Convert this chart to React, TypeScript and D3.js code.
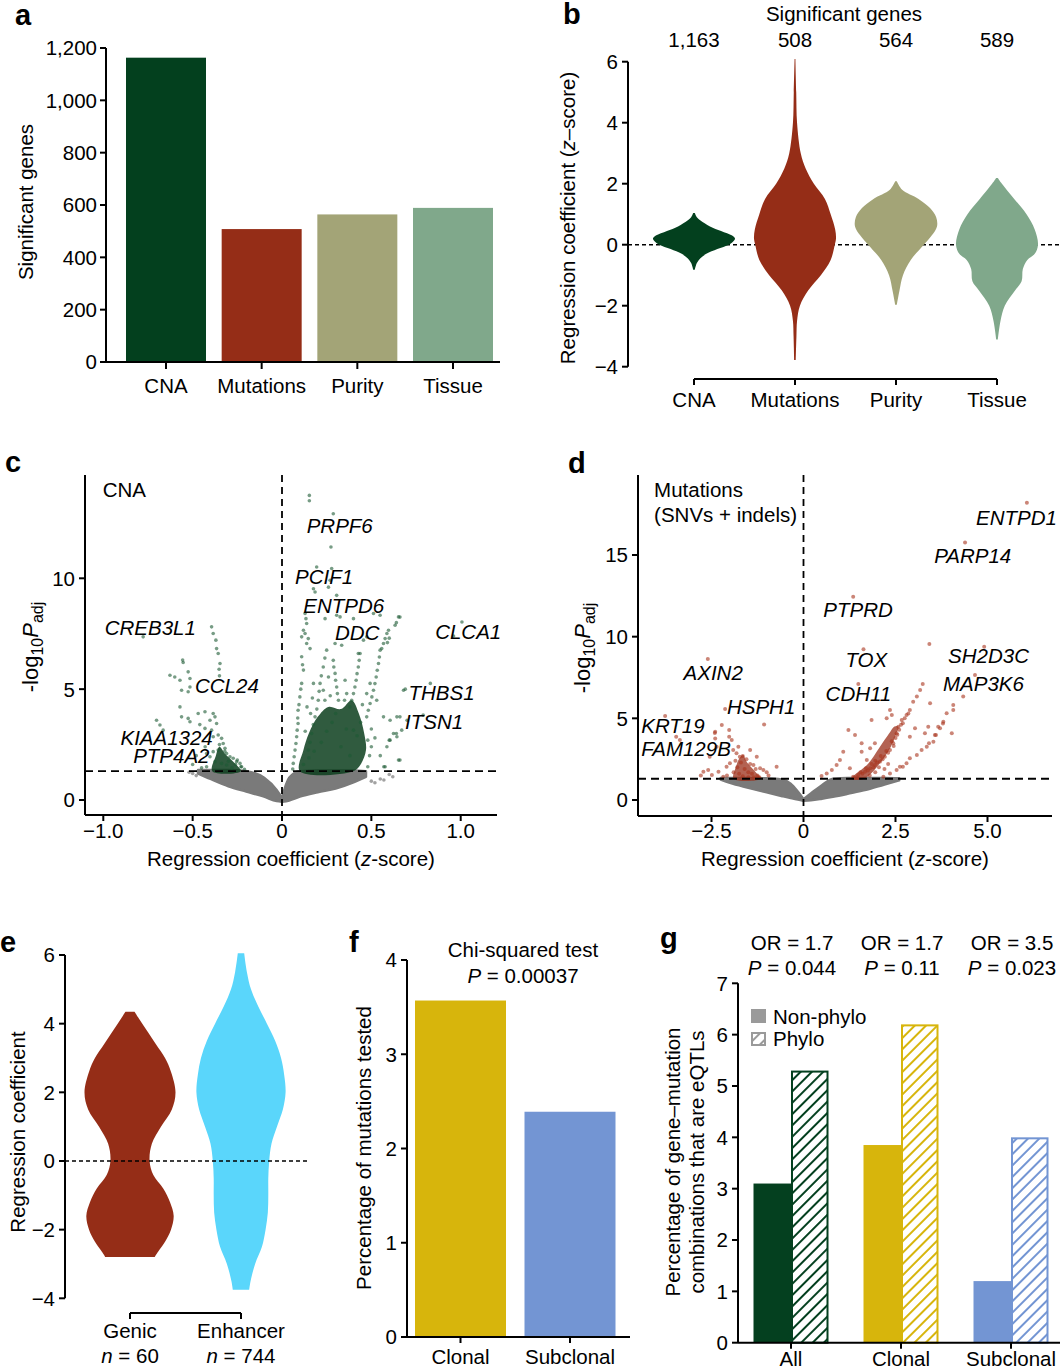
import React from "react";
import * as d3 from "d3";

const FONT = "'Liberation Sans', Arial, Helvetica, sans-serif";
const FS = 20.5;

// ---------------- a ----------------
const sigCategories = ["CNA", "Mutations", "Purity", "Tissue"];
const sigGeneCounts = [1163, 508, 564, 589];
const sigCountLabels = ["1,163", "508", "564", "589"];
const categoryColors = ["#03401e", "#952d17", "#a3a477", "#80a88b"];
const aTicks = [0, 200, 400, 600, 800, 1000, 1200];
const aTickLabels = ["0", "200", "400", "600", "800", "1,000", "1,200"];

// ---------------- b ---------------- [value, relative half width]
const violinCNA = [[1.04, 0.02], [0.9, 0.07], [0.8, 0.15], [0.6, 0.39], [0.45, 0.66], [0.3, 0.93], [0.2, 1.0], [0.1, 0.95], [0, 0.85], [-0.14, 0.57], [-0.3, 0.3], [-0.45, 0.15], [-0.6, 0.07], [-0.82, 0.02]];
const violinMutations = [[6.09, 0.01], [5, 0.03], [4, 0.05], [3, 0.14], [2.5, 0.26], [2, 0.46], [1.5, 0.73], [1, 0.87], [0.5, 0.98], [0.2, 1.0], [0, 0.97], [-0.5, 0.87], [-1, 0.63], [-1.5, 0.32], [-2, 0.12], [-2.5, 0.05], [-3, 0.035], [-3.78, 0.02]];
const violinPurity = [[2.08, 0.02], [1.8, 0.15], [1.5, 0.55], [1.2, 0.83], [0.9, 0.98], [0.6, 1.0], [0.3, 0.87], [0, 0.68], [-0.5, 0.36], [-1, 0.17], [-1.5, 0.085], [-1.97, 0.02]];
const violinTissue = [[2.19, 0.02], [2, 0.12], [1.5, 0.42], [1, 0.72], [0.5, 0.92], [0, 1.0], [-0.3, 0.92], [-0.5, 0.74], [-0.8, 0.63], [-1.2, 0.6], [-1.5, 0.44], [-2, 0.19], [-2.5, 0.085], [-3.11, 0.02]];
const bTicks = [-4, -2, 0, 2, 4, 6];
const bTickLabels = ["\u22124", "\u22122", "0", "2", "4", "6"];

// ---------------- c ---------------- [z, -log10 Padj]
const cnaGreyLeft = [[-0.47, 1.2, 1.35], [-0.4, 0.95, 1.35], [-0.3, 0.62, 1.35], [-0.2, 0.38, 1.3], [-0.1, 0.15, 1.0], [-0.03, -0.05, 0.45], [0, -0.08, 0.1]];
const cnaGreyRight = [[0, -0.08, 0.1], [0.04, -0.02, 1.0], [0.1, 0.15, 1.3], [0.2, 0.35, 1.33], [0.3, 0.52, 1.33], [0.4, 0.8, 1.33], [0.47, 1.05, 1.3]];
const cnaGreyPoints = [[0.55, 0.95], [0.6, 1.15], [0.52, 0.78], [0.57, 0.9], [0.62, 1.05], [0.5, 0.85], [-0.5, 1.2], [-0.52, 1.25], [-0.48, 1.1]];
const cnaDenseRight = [[0.1, 1.3], [0.12, 2.25], [0.15, 3.0], [0.2, 3.75], [0.26, 4.2], [0.33, 4.1], [0.39, 4.5], [0.43, 3.9], [0.46, 3.0], [0.47, 2.25], [0.44, 1.6], [0.4, 1.3]];
const cnaDenseLeft = [[-0.39, 1.3], [-0.37, 2.0], [-0.35, 2.4], [-0.32, 2.1], [-0.27, 1.7], [-0.23, 1.3]];
const cnaSigPoints = [
  [0.153, 13.74], [0.153, 13.5], [0.287, 12.91], [0.274, 11.41], [0.194, 10.51], [0.278, 10.44], [0.176, 9.53], [0.185, 9.38], [0.269, 9.91], [0.306, 9.23], [0.26, 9.6],
  [0.129, 8.41], [0.134, 8.18], [0.138, 7.96], [0.12, 7.66], [0.129, 7.51], [0.147, 7.28], [0.138, 7.06], [0.11, 7.36], [0.157, 6.83],
  [0.306, 8.33], [0.325, 8.26], [0.241, 8.18], [0.4, 8.18], [0.297, 7.06], [0.334, 6.98], [0.427, 6.61], [0.456, 7.21], [0.474, 7.36],
  [0.512, 8.41], [0.549, 8.33], [0.652, 8.26], [0.633, 7.88], [0.587, 7.51], [0.577, 7.28], [0.568, 7.06], [0.558, 6.83], [0.596, 7.66],
  [1.007, 8.03], [0.96, 7.4],
  [0.11, 6.46], [0.12, 5.86], [0.11, 5.26], [0.1, 4.65], [0.09, 4.05], [0.09, 3.45], [0.082, 2.85], [0.073, 2.25], [0.063, 1.65],
  [0.115, 6.1], [0.105, 5.0], [0.095, 4.3], [0.088, 3.7], [0.085, 3.15], [0.078, 2.55], [0.068, 1.95], [0.06, 1.4],
  [0.147, 2.25], [0.166, 3.0], [0.185, 3.75], [0.203, 4.5], [0.213, 5.26], [0.231, 6.0], [0.25, 6.76], [0.157, 2.6], [0.175, 3.4], [0.195, 4.1], [0.208, 4.9], [0.22, 5.6], [0.24, 6.4],
  [0.287, 6.3], [0.297, 5.71], [0.306, 5.1], [0.316, 4.5], [0.29, 6.0], [0.3, 5.4], [0.31, 4.8],
  [0.437, 6.61], [0.427, 6.0], [0.415, 5.4], [0.4, 4.8], [0.38, 4.2], [0.432, 6.3], [0.42, 5.7], [0.408, 5.1], [0.39, 4.5],
  [0.549, 6.76], [0.54, 6.16], [0.527, 5.55], [0.512, 4.95], [0.493, 4.35], [0.474, 3.75], [0.545, 6.45], [0.533, 5.85], [0.52, 5.25], [0.503, 4.65], [0.483, 4.05],
  [0.176, 5.26], [0.231, 4.95], [0.26, 5.55], [0.353, 5.4], [0.362, 4.8], [0.474, 4.8], [0.493, 5.26], [0.53, 4.5], [0.568, 3.75], [0.605, 3.6], [0.643, 3.75], [0.624, 3.0],
  [0.605, 2.7], [0.587, 2.4], [0.652, 1.8], [0.577, 1.5], [0.83, 5.26], [0.68, 4.95], [0.7, 3.6], [0.67, 3.15], [0.643, 2.85], [0.79, 3.83], [0.4, 3.15], [0.66, 8.25],
  [0.64, 8.0], [0.6, 7.3], [0.59, 7.1], [0.69, 5.0], [0.66, 3.75], [0.64, 3.0], [0.6, 2.7], [0.66, 1.8], [0.57, 1.5], [0.55, 2.0], [0.52, 2.8], [0.5, 3.2],
  [0.12, 1.6], [0.15, 1.9], [0.18, 2.2], [0.22, 2.6], [0.25, 3.1], [0.28, 3.5], [0.3, 3.9], [0.33, 2.4], [0.36, 3.2], [0.38, 2.0], [0.42, 2.9], [0.44, 3.5], [0.48, 1.5], [0.49, 2.0],
  [0.14, 4.2], [0.17, 4.6], [0.24, 4.5], [0.27, 4.7], [0.35, 4.5], [0.45, 4.3], [0.48, 2.7], [0.5, 2.4], [0.13, 3.1], [0.16, 3.9],
  [-0.394, 7.81], [-0.385, 7.51], [-0.37, 7.21], [-0.366, 6.83], [-0.357, 6.61], [-0.347, 6.16], [-0.352, 5.9], [-0.35, 5.6],
  [-0.556, 6.31], [-0.553, 6.2], [-0.627, 5.63], [-0.6, 5.55], [-0.571, 5.4], [-0.525, 5.78], [-0.515, 5.48], [-0.515, 5.1], [-0.525, 4.88], [-0.562, 4.95], [-0.571, 4.2], [-0.562, 3.75],
  [-0.702, 3.6], [-0.683, 3.38], [-0.665, 3.15], [-0.525, 3.68], [-0.515, 3.53], [-0.469, 3.9], [-0.431, 3.98], [-0.385, 3.9], [-0.375, 3.75], [-0.403, 3.6], [-0.366, 3.45],
  [-0.431, 3.23], [-0.394, 3.15], [-0.357, 2.93], [-0.338, 2.78], [-0.329, 2.55], [-0.319, 2.33], [-0.31, 2.1], [-0.291, 1.95], [-0.273, 1.88], [-0.254, 1.73], [-0.235, 1.65], [-0.226, 1.5],
  [-0.403, 1.95], [-0.385, 2.18], [-0.357, 2.25], [-0.375, 1.73], [-0.338, 1.65], [-0.31, 1.58], [-0.422, 1.5], [-0.777, 7.36], [-0.385, 2.85], [-0.422, 2.1], [-0.46, 3.4],
  [-0.43, 2.4], [-0.25, 1.8], [-0.23, 1.5], [-0.28, 1.45], [-0.3, 1.75], [-0.35, 2.5], [-0.32, 2.2], [-0.26, 1.6], [-0.21, 1.38], [-0.45, 1.45], [-0.5, 1.6], [-0.48, 2.0],
];
const cnaGeneLabels = [
  ["PRPF6", 0.138, 12.03], ["PCIF1", 0.073, 9.76], ["ENTPD6", 0.119, 8.45], ["DDC", 0.297, 7.21], ["CLCA1", 0.857, 7.28], ["CREB3L1", -0.992, 7.43],
  ["CCL24", -0.487, 4.81], ["THBS1", 0.708, 4.5], ["ITSN1", 0.689, 3.18], ["KIAA1324", -0.904, 2.48], ["PTP4A2", -0.833, 1.65],
];
const cTicksX = [-1, -0.5, 0, 0.5, 1];
const cTickLabelsX = ["\u22121.0", "\u22120.5", "0", "0.5", "1.0"];
const cTicksY = [0, 5, 10];

// ---------------- d ----------------
const mutGreyLeft = [[-2.25, 1.25, 1.35], [-2.0, 1.05, 1.35], [-1.5, 0.75, 1.35], [-1.0, 0.47, 1.33], [-0.6, 0.25, 1.25], [-0.35, 0.12, 1.0], [-0.15, 0.03, 0.5], [0, -0.05, 0.05]];
const mutGreyRight = [[0, -0.05, 0.05], [0.2, -0.02, 0.4], [0.5, 0.08, 0.9], [0.8, 0.2, 1.3], [1.2, 0.38, 1.35], [1.7, 0.62, 1.35], [2.2, 0.95, 1.35], [2.6, 1.2, 1.33]];
const mutDenseLeft = [[-1.9, 1.3], [-1.84, 2.0], [-1.74, 2.55], [-1.64, 2.75], [-1.55, 2.35], [-1.42, 2.0], [-1.28, 1.65], [-1.15, 1.3]];
const mutDenseRight = [[1.3, 1.3], [1.75, 2.2], [2.06, 3.2], [2.32, 4.05], [2.47, 4.5], [2.58, 4.5], [2.52, 4.05], [2.36, 3.2], [2.06, 2.2], [1.65, 1.3]];
const mutSigPoints = [
  [6.07, 18.2], [4.39, 15.76], [1.35, 12.45], [3.42, 9.55], [4.91, 9.39], [1.63, 9.23], [4.66, 7.65], [1.49, 7.1], [4.34, 6.33], [3.24, 7.1], [3.17, 6.74],
  [3.08, 6.33], [2.98, 6.02], [2.89, 5.51], [2.8, 5.2], [2.67, 4.9], [2.58, 4.49], [2.53, 4.08], [2.44, 3.47], [2.35, 3.06], [2.21, 2.65], [2.08, 2.35], [1.94, 2.14], [1.81, 1.94], [1.67, 1.73], [1.49, 1.53], [1.35, 1.43],
  [4.07, 5.51], [3.89, 5.31], [3.8, 4.79], [3.71, 4.39], [3.57, 3.98], [3.53, 3.57], [3.35, 3.26], [3.21, 3.06], [3.08, 2.76], [2.89, 2.55], [2.8, 2.25], [2.62, 2.04], [2.53, 1.84], [2.35, 1.63], [2.17, 1.43],
  [3.44, 5.92], [3.66, 4.49], [3.39, 4.49], [4.03, 4.08], [3.3, 4.08],
  [1.22, 4.29], [1.4, 3.98], [1.85, 4.9], [2.35, 5.51], [2.4, 5.2], [2.26, 5.0], [1.94, 3.47], [1.81, 3.17], [1.58, 3.47], [1.58, 2.96], [1.08, 2.96], [0.99, 2.45], [0.9, 2.14], [0.77, 1.84],
  [0.63, 1.63], [0.49, 1.47], [1.26, 1.94], [1.72, 2.45], [2.89, 3.88], [3.03, 4.39], [4.07, 5.82], [3.79, 4.69], [3.6, 3.98], [3.41, 3.47], [2.7, 2.04],
  [2.5, 3.8], [2.45, 3.3], [2.3, 2.9], [2.15, 2.5], [2.0, 2.3], [1.9, 2.0], [1.75, 1.8], [1.6, 1.6], [1.45, 1.4], [2.6, 4.3], [2.7, 4.7], [2.4, 3.6], [2.25, 3.0], [2.1, 2.7],
  [1.95, 2.4], [1.85, 2.2], [1.7, 1.95], [1.55, 1.7], [2.05, 2.0], [1.95, 1.7], [1.8, 1.5], [2.3, 2.2], [2.2, 1.9], [2.55, 4.0], [2.65, 4.6], [2.75, 5.0], [2.85, 5.3],
  [-2.6, 8.63], [-3.76, 5.14], [-3.46, 3.88], [-3.36, 3.67], [-2.13, 5.57], [-1.07, 4.63], [-2.4, 4.18], [-2.4, 3.77], [-2.36, 3.26], [-2.22, 4.59], [-2.02, 4.29], [-2.02, 3.88],
  [-2.59, 1.84], [-2.49, 1.53], [-2.72, 1.73], [-2.09, 2.04], [-2.0, 2.25], [-1.95, 3.67], [-1.91, 3.06], [-1.82, 2.86], [-1.77, 3.26], [-1.73, 2.65], [-1.36, 2.14], [-1.18, 1.94],
  [-1.09, 1.84], [-0.73, 2.04], [-1.45, 3.06], [-1.27, 2.65], [-2.18, 1.43], [-2.31, 1.73], [-2.41, 4.1], [-2.79, 1.5], [-2.55, 2.65], [-2.08, 1.5],
  [-1.85, 2.4], [-1.8, 2.0], [-1.7, 2.3], [-1.6, 1.9], [-1.55, 2.5], [-1.5, 1.7], [-1.45, 2.2], [-1.4, 1.6], [-1.3, 1.9], [-1.25, 1.5], [-1.65, 2.7], [-1.75, 1.6], [-1.9, 1.7],
  [-1.2, 1.4], [-1.5, 1.4], [-1.35, 1.4], [-1.65, 1.45], [-0.95, 1.5], [-1.0, 1.7],
];
const mutGeneLabels = [
  ["ENTPD1", 4.69, 16.84], ["PARP14", 3.55, 14.49], ["PTPRD", 0.54, 11.22], ["TOX", 1.14, 8.16], ["SH2D3C", 3.93, 8.37], ["MAP3K6", 3.79, 6.69],
  ["CDH11", 0.6, 6.08], ["AXIN2", -3.26, 7.35], ["HSPH1", -2.08, 5.27], ["KRT19", -4.41, 4.08], ["FAM129B", -4.41, 2.69],
];
const dTicksX = [-2.5, 0, 2.5, 5];
const dTickLabelsX = ["\u22122.5", "0", "2.5", "5.0"];
const dTicksY = [0, 5, 10, 15];

// ---------------- e ----------------
const eCategories = ["Genic", "Enhancer"];
const eCounts = ["60", "744"];
const eColors = ["#952d17", "#5ad6fb"];
const violinGenic = [[4.35, 0.1], [4.1, 0.22], [3.8, 0.37], [3.4, 0.57], [3.0, 0.77], [2.6, 0.9], [2.0, 1.0], [1.5, 0.92], [1.0, 0.68], [0.5, 0.48], [0, 0.43], [-0.4, 0.51], [-0.8, 0.73], [-1.2, 0.88], [-1.6, 0.96], [-2.0, 0.9], [-2.35, 0.77], [-2.6, 0.64], [-2.8, 0.54]];
const violinEnhancer = [[6.05, 0.07], [5.5, 0.13], [5, 0.22], [4.5, 0.38], [4, 0.57], [3.5, 0.75], [3, 0.88], [2.5, 0.95], [2, 0.98], [1.5, 0.92], [1, 0.79], [0.5, 0.67], [0, 0.62], [-0.5, 0.6], [-1, 0.6], [-1.5, 0.59], [-2, 0.54], [-2.5, 0.46], [-3, 0.31], [-3.5, 0.21], [-3.75, 0.18]];

// ---------------- f ----------------
const clonalityCats = ["Clonal", "Subclonal"];
const pctTested = [3.57, 2.39];
const clonalityColors = ["#d7b50c", "#7395d3"];
const fTicks = [0, 1, 2, 3, 4];

// ---------------- g ----------------
const gCats = ["All", "Clonal", "Subclonal"];
const gNonPhylo = [3.1, 3.85, 1.2];
const gPhylo = [5.3, 6.2, 4.0];
const gColors = ["#04401f", "#d7b50c", "#7395d3"];
const gOR = ["1.7", "1.7", "3.5"];
const gP = ["0.044", "0.11", "0.023"];
const gTicks = [0, 1, 2, 3, 4, 5, 6, 7];

const BLACK = "#000";

function YAxis({ x, y0, y1, scale, ticks, labels, tickLen = 6, gap = 10 }: any) {
  return (
    <g>
      <line x1={x} x2={x} y1={y0} y2={y1} stroke={BLACK} strokeWidth={2} />
      {ticks.map((t: number, i: number) => (
        <g key={i}>
          <line x1={x - tickLen} x2={x} y1={scale(t)} y2={scale(t)} stroke={BLACK} strokeWidth={2} />
          <text x={x - gap} y={scale(t)} dy="0.36em" textAnchor="end">{labels[i]}</text>
        </g>
      ))}
    </g>
  );
}

function XTicks({ y, positions, labels, labelY, tickLen = 7 }: any) {
  return (
    <g>
      {positions.map((p: number, i: number) => (
        <g key={i}>
          <line x1={p} x2={p} y1={y} y2={y + tickLen} stroke={BLACK} strokeWidth={2} />
          <text x={p} y={labelY} textAnchor="middle">{labels[i]}</text>
        </g>
      ))}
    </g>
  );
}

function violinPath(profile: number[][], cx: number, yScale: any, maxHalf: number) {
  return d3
    .area<number[]>()
    .y((d) => yScale(d[0]))
    .x0((d) => cx - d[1] * maxHalf)
    .x1((d) => cx + d[1] * maxHalf)
    .curve(d3.curveCatmullRom)(profile) as string;
}

function PanelA() {
  const x = d3.scalePoint<string>().domain(sigCategories).range([166, 453]);
  const y = d3.scaleLinear().domain([0, 1200]).range([362, 48]);
  const bw = 80;
  return (
    <g>
      <text x={15} y={25} fontSize={29} fontWeight="bold">a</text>
      {sigCategories.map((c, i) => (
        <rect key={c} x={x(c)! - bw / 2} y={y(sigGeneCounts[i])} width={bw} height={y(0) - y(sigGeneCounts[i])} fill={categoryColors[i]} />
      ))}
      <YAxis x={106} y0={y(1200)} y1={y(0)} scale={y} ticks={aTicks} labels={aTickLabels} gap={9} />
      <line x1={106} x2={500} y1={y(0)} y2={y(0)} stroke={BLACK} strokeWidth={2} />
      <XTicks y={y(0)} positions={sigCategories.map((c) => x(c))} labels={sigCategories} labelY={393} />
      <text transform="translate(33,202) rotate(-90)" textAnchor="middle">Significant genes</text>
    </g>
  );
}

function PanelB() {
  const x = d3.scalePoint<string>().domain(sigCategories).range([694, 997]);
  const y = d3.scaleLinear().domain([-4, 6]).range([366.7, 61.7]);
  const profiles = [violinCNA, violinMutations, violinPurity, violinTissue];
  return (
    <g>
      <text x={563} y={24} fontSize={29} fontWeight="bold">b</text>
      <text x={844} y={21} textAnchor="middle">Significant genes</text>
      {sigCategories.map((c, i) => (
        <text key={c} x={x(c)} y={47} textAnchor="middle">{sigCountLabels[i]}</text>
      ))}
      <line x1={628} x2={1061} y1={y(0)} y2={y(0)} stroke={BLACK} strokeWidth={1.5} strokeDasharray="4 3" />
      {sigCategories.map((c, i) => (
        <path key={c} d={violinPath(profiles[i], x(c)!, y, 41)} fill={categoryColors[i]} />
      ))}
      <YAxis x={628} y0={y(6)} y1={y(-4)} scale={y} ticks={bTicks} labels={bTickLabels} gap={10} />
      <line x1={x("CNA")} x2={x("Tissue")} y1={379} y2={379} stroke={BLACK} strokeWidth={2} />
      <XTicks y={379} positions={sigCategories.map((c) => x(c))} labels={sigCategories} labelY={407} tickLen={6} />
      <text transform="translate(575,218) rotate(-90)" textAnchor="middle">
        Regression coefficient (<tspan fontStyle="italic">z</tspan>{"\u2013score)"}
      </text>
    </g>
  );
}

function Volcano({ x, y, greyAreas, greyPoints, dense, points, color, denseColor, denseOpacity, r, genes, axisX, axisY, xEnd, yTop, xTicks, xTickLabels, yTicks, letter, letterX, letterY, titleX, titleY }: any) {
  const area = d3
    .area<number[]>()
    .x((d) => x(d[0]))
    .y0((d) => y(d[1]))
    .y1((d) => y(d[2]))
    .curve(d3.curveMonotoneX);
  const poly = d3.line<number[]>().x((d) => x(d[0])).y((d) => y(d[1])).curve(d3.curveCatmullRomClosed);
  return (
    <g>
      <text x={letterX} y={letterY} fontSize={29} fontWeight="bold">{letter}</text>
      {greyAreas.map((a: number[][], i: number) => (
        <path key={i} d={area(a) as string} fill="#7a7a7a" stroke="#7a7a7a" strokeWidth={2.5} strokeLinejoin="round" />
      ))}
      {greyPoints.map((p: number[], i: number) => (
        <circle key={i} cx={x(p[0])} cy={y(p[1])} r={r} fill="#7a7a7a" opacity={0.7} />
      ))}
      {dense.map((pg: number[][], i: number) => (
        <path key={i} d={poly(pg) as string} fill={denseColor} opacity={denseOpacity} />
      ))}
      {points.map((p: number[], i: number) => (
        <circle key={i} cx={x(p[0])} cy={y(p[1])} r={r} fill={color} opacity={0.6} />
      ))}
      <line x1={x(0)} x2={x(0)} y1={yTop} y2={axisY} stroke={BLACK} strokeWidth={1.8} strokeDasharray="7 5" />
      <line x1={axisX} x2={xEnd} y1={y(1.3)} y2={y(1.3)} stroke={BLACK} strokeWidth={1.8} strokeDasharray="8 5" />
      <YAxis x={axisX} y0={yTop} y1={axisY} scale={y} ticks={yTicks} labels={yTicks.map(String)} gap={10} />
      <line x1={axisX} x2={xEnd} y1={axisY} y2={axisY} stroke={BLACK} strokeWidth={2} />
      <XTicks y={axisY} positions={xTicks.map((t: number) => x(t))} labels={xTickLabels} labelY={838} tickLen={6} />
      {genes.map((g: any[], i: number) => (
        <text key={i} x={x(g[1])} y={y(g[2])} fontStyle="italic">{g[0]}</text>
      ))}
      <text x={(axisX + xEnd) / 2} y={866} textAnchor="middle">
        Regression coefficient (<tspan fontStyle="italic">z</tspan>-score)
      </text>
      <text transform={`translate(${titleX},${titleY}) rotate(-90)`} textAnchor="middle" fontSize={22}>
        -log<tspan fontSize={16} dy={5}>10</tspan>
        <tspan fontStyle="italic" dy={-5}>P</tspan>
        <tspan fontSize={16} dy={5}>adj</tspan>
      </text>
    </g>
  );
}

function PanelC() {
  const x = d3.scaleLinear().domain([-1, 1]).range([103.3, 460.7]);
  const y = d3.scaleLinear().domain([0, 10]).range([800, 578.3]);
  return (
    <g>
      <Volcano x={x} y={y} greyAreas={[cnaGreyLeft, cnaGreyRight]} greyPoints={cnaGreyPoints} dense={[cnaDenseRight, cnaDenseLeft]}
        points={cnaSigPoints} color="#1d5a33" denseColor="#0c3e1d" denseOpacity={0.85} r={1.8} genes={cnaGeneLabels}
        axisX={85} axisY={815} xEnd={497} yTop={475} xTicks={cTicksX} xTickLabels={cTickLabelsX} yTicks={cTicksY}
        letter="c" letterX={5} letterY={472} titleX={38} titleY={647} />
      <text x={x(-1.003)} y={y(13.65)}>CNA</text>
    </g>
  );
}

function PanelD() {
  const x = d3.scaleLinear().domain([0, 5]).range([803.5, 987.5]);
  const y = d3.scaleLinear().domain([0, 15]).range([800, 555]);
  return (
    <g>
      <Volcano x={x} y={y} greyAreas={[mutGreyLeft, mutGreyRight]} greyPoints={[]} dense={[mutDenseLeft, mutDenseRight]}
        points={mutSigPoints} color="#a8341d" denseColor="#9a2e18" denseOpacity={0.75} r={2} genes={mutGeneLabels}
        axisX={638} axisY={816} xEnd={1052} yTop={475} xTicks={dTicksX} xTickLabels={dTickLabelsX} yTicks={dTicksY}
        letter="d" letterX={568} letterY={473} titleX={590} titleY={648} />
      <text x={x(-4.06)} y={y(18.57)}>Mutations</text>
      <text x={x(-4.06)} y={y(17.04)}>(SNVs + indels)</text>
    </g>
  );
}

function PanelE() {
  const x = d3.scalePoint<string>().domain(eCategories).range([130, 241]);
  const y = d3.scaleLinear().domain([-4, 6]).range([1298.3, 955]);
  const profiles = [violinGenic, violinEnhancer];
  return (
    <g>
      <text x={0} y={952} fontSize={29} fontWeight="bold">e</text>
      {eCategories.map((c, i) => (
        <path key={c} d={violinPath(profiles[i], x(c)!, y, 45.5)} fill={eColors[i]} />
      ))}
      <line x1={65} x2={307} y1={y(0)} y2={y(0)} stroke={BLACK} strokeWidth={1.5} strokeDasharray="4 3" />
      <YAxis x={65} y0={y(6)} y1={y(-4)} scale={y} ticks={bTicks} labels={bTickLabels} gap={10} />
      <line x1={x("Genic")} x2={x("Enhancer")} y1={1313} y2={1313} stroke={BLACK} strokeWidth={2} />
      <XTicks y={1313} positions={eCategories.map((c) => x(c))} labels={eCategories} labelY={1338} tickLen={6} />
      {eCategories.map((c, i) => (
        <text key={c} x={x(c)} y={1363} textAnchor="middle">
          <tspan fontStyle="italic">n</tspan> = {eCounts[i]}
        </text>
      ))}
      <text transform="translate(25,1132) rotate(-90)" textAnchor="middle">Regression coefficient</text>
    </g>
  );
}

function PanelF() {
  const x = d3.scalePoint<string>().domain(clonalityCats).range([460.5, 570]);
  const y = d3.scaleLinear().domain([0, 4]).range([1337, 960]);
  const bw = 91;
  return (
    <g>
      <text x={349} y={952} fontSize={29} fontWeight="bold">f</text>
      <text x={523} y={957} textAnchor="middle">Chi-squared test</text>
      <text x={523} y={983} textAnchor="middle"><tspan fontStyle="italic">P</tspan> = 0.00037</text>
      {clonalityCats.map((c, i) => (
        <rect key={c} x={x(c)! - bw / 2} y={y(pctTested[i])} width={bw} height={y(0) - y(pctTested[i])} fill={clonalityColors[i]} />
      ))}
      <YAxis x={407} y0={y(4)} y1={y(0)} scale={y} ticks={fTicks} labels={fTicks.map(String)} gap={10} />
      <line x1={407} x2={630} y1={y(0)} y2={y(0)} stroke={BLACK} strokeWidth={2} />
      <XTicks y={y(0)} positions={clonalityCats.map((c) => x(c))} labels={clonalityCats} labelY={1364} tickLen={6} />
      <text transform="translate(371,1148) rotate(-90)" textAnchor="middle">Percentage of mutations tested</text>
    </g>
  );
}

function PanelG() {
  const x = d3.scalePoint<string>().domain(gCats).range([791, 1011]);
  const y = d3.scaleLinear().domain([0, 7]).range([1342.7, 983.3]);
  const bw = 37.5;
  return (
    <g>
      <text x={660} y={948} fontSize={29} fontWeight="bold">g</text>
      {gCats.map((c, i) => (
        <g key={c}>
          <text x={x(c)! + 1} y={950} textAnchor="middle">OR = {gOR[i]}</text>
          <text x={x(c)! + 1} y={975} textAnchor="middle"><tspan fontStyle="italic">P</tspan> = {gP[i]}</text>
          <rect x={x(c)! - bw} y={y(gNonPhylo[i])} width={bw} height={y(0) - y(gNonPhylo[i])} fill={gColors[i]} />
          <rect x={x(c)! + 1} y={y(gPhylo[i]) + 1} width={bw - 2} height={y(0) - y(gPhylo[i]) - 1} fill={`url(#hatch${i})`} stroke={gColors[i]} strokeWidth={2} />
        </g>
      ))}
      <YAxis x={738} y0={y(7)} y1={y(0)} scale={y} ticks={gTicks} labels={gTicks.map(String)} gap={10} />
      <line x1={738} x2={1060} y1={y(0)} y2={y(0)} stroke={BLACK} strokeWidth={2} />
      <XTicks y={y(0)} positions={gCats.map((c) => x(c))} labels={gCats} labelY={1366} tickLen={6} />
      <rect x={751} y={1009} width={15} height={14} fill="#9a9a9a" />
      <text x={773} y={1024}>Non-phylo</text>
      <rect x={752} y={1033} width={13} height={12} fill="url(#hatchGrey)" stroke="#9a9a9a" strokeWidth={2} />
      <text x={773} y={1046}>Phylo</text>
      <text transform="translate(680,1162) rotate(-90)" textAnchor="middle">{"Percentage of gene\u2013mutation"}</text>
      <text transform="translate(704,1162) rotate(-90)" textAnchor="middle">combinations that are eQTLs</text>
    </g>
  );
}

export default function App() {
  const hatchColors = [...gColors, "#9a9a9a"];
  return (
    <svg width={1063} height={1369} viewBox="0 0 1063 1369" style={{ position: "absolute", left: 0, top: 0, display: "block" }} fontFamily={FONT} fontSize={FS} fill="#000">
      <defs>
        {hatchColors.map((c, i) => (
          <pattern key={i} id={i < 3 ? `hatch${i}` : "hatchGrey"} patternUnits="userSpaceOnUse" width={8} height={8} patternTransform="rotate(45)">
            <rect width={8} height={8} fill="#fff" />
            <line x1={4} x2={4} y1={0} y2={8} stroke={c} strokeWidth={2} />
          </pattern>
        ))}
      </defs>
      <rect width={1063} height={1369} fill="#fff" />
      <PanelA />
      <PanelB />
      <PanelC />
      <PanelD />
      <PanelE />
      <PanelF />
      <PanelG />
    </svg>
  );
}
